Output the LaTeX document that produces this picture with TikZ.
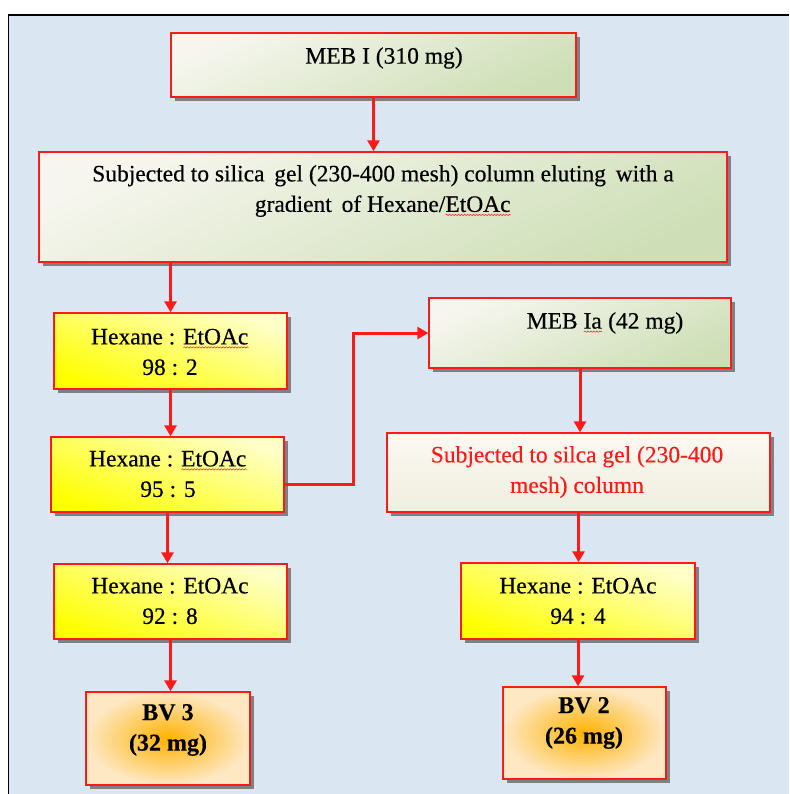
\documentclass[tikz,border=0pt]{standalone}
\usepackage{fontspec}
\setmainfont[FakeBold=0.4]{Liberation Serif}
\usetikzlibrary{arrows.meta,shadows,decorations.pathmorphing}
\definecolor{bgblue}{RGB}{218,230,241}
\definecolor{redline}{RGB}{255,26,26}
\definecolor{greenA}{RGB}{246,246,238}
\definecolor{greenB}{RGB}{206,223,183}
\definecolor{yelA}{RGB}{255,255,200}
\definecolor{yelB}{RGB}{255,255,0}
\definecolor{ivoryA}{RGB}{251,249,242}
\definecolor{ivoryB}{RGB}{240,238,222}
\definecolor{orgC}{RGB}{255,178,0}
\definecolor{orgO}{RGB}{254,232,196}
\newsavebox\wvbox
\newcommand\wavy[1]{\sbox\wvbox{#1}\rlap{\usebox\wvbox}\raisebox{-4pt}[0pt][0pt]{\tikz\draw[redline,line width=0.5pt,decorate,decoration={snake,amplitude=0.7pt,segment length=3pt}] (0pt,0pt) -- (\wd\wvbox,0pt);}}
\begin{document}
\begin{tikzpicture}[x=1pt,y=-1pt,
  box/.style={draw=redline, line width=1.4pt, rectangle, inner sep=0pt,
    drop shadow={shadow xshift=4pt, shadow yshift=-4pt, fill=black!70, opacity=0.65}},
  greenbox/.style={box, top color=greenA, bottom color=greenB, shading angle=25},
  yelbox/.style={box, top color=yelA, bottom color=yelB, shading angle=-20},
  ivorybox/.style={box, top color=ivoryA, bottom color=ivoryB},
  orgbox/.style={box, inner color=orgC, outer color=orgO},
  txt/.style={font=\fontsize{23.5}{30.5}\selectfont, align=center, inner sep=0pt},
  arr/.style={draw=redline, line width=3pt, -{Triangle[length=11pt,width=12pt]}}]
\useasboundingbox (0,0) rectangle (789,794);
\fill[bgblue] (8.5,15) rectangle (789,794);
\draw[black, line width=1.8pt] (8.5,794) -- (8.5,15) -- (789,15);

\node[greenbox, minimum width=405pt, minimum height=64pt] (meb) at (373.5,65) {};
\node[txt] (mebt) at (384,58) {MEB I (310 mg)};

\node[greenbox, minimum width=688pt, minimum height=110pt] (big) at (383,207) {};
\node[txt] (bigt) at (383,191) {Subjected to silica\, gel (230-400 mesh) column eluting\, with a\\gradient\, of Hexane/\wavy{EtOAc}};

\node[yelbox, minimum width=233pt, minimum height=76pt] (h1) at (170.5,351) {};
\node[txt] (h1t) at (170,352) {Hexane : \wavy{EtOAc}\\98 : 2};

\node[yelbox, minimum width=233pt, minimum height=75pt] (h2) at (167.5,474.5) {};
\node[txt] (h2t) at (168,474) {Hexane : \wavy{EtOAc}\\95 : 5};

\node[yelbox, minimum width=233pt, minimum height=75pt] (h3) at (170.5,601.5) {};
\node[txt] (h3t) at (170,601) {Hexane : EtOAc\\92 : 8};

\node[greenbox, minimum width=302pt, minimum height=70pt] (mebia) at (580,333) {};
\node[txt] (mebiat) at (605,323) {MEB \wavy{Ia} (42 mg)};

\node[ivorybox, minimum width=383pt, minimum height=79pt] (silca) at (578.5,472.5) {};
\node[txt, text=redline] (silcat) at (577,472) {Subjected to silca gel (230-400\\mesh) column};

\node[yelbox, minimum width=234pt, minimum height=76pt] (h4) at (578,601) {};
\node[txt] (h4t) at (578,601) {Hexane : EtOAc\\94 : 4};

\node[orgbox, minimum width=164pt, minimum height=93pt] (bv3) at (168,738.5) {};
\node[txt, font=\fontsize{24}{30.5}\selectfont\bfseries] (bv3t) at (168,730) {BV 3\\(32 mg)};

\node[orgbox, minimum width=163pt, minimum height=92pt] (bv2) at (584.5,733) {};
\node[txt, font=\fontsize{24}{30.5}\selectfont\bfseries] (bv2t) at (584,723) {BV 2\\(26 mg)};

\draw[arr] (meb.south) -- (big.north -| meb.south);
\draw[arr] (big.south -| h1.north) -- (h1.north);
\draw[arr] (h1.south) -- (h2.north -| h1.south);
\draw[arr] (h2.south) -- (h3.north -| h2.south);
\draw[arr] (h3.south) -- (bv3.north -| h3.south);
\draw[arr] ([yshift=-10pt]h2.east) -- ++(69,0) |- (mebia.west);
\draw[arr] (mebia.south) -- (silca.north -| mebia.south);
\draw[arr] (silca.south) -- (h4.north -| silca.south);
\draw[arr] (h4.south) -- (bv2.north -| h4.south);
\end{tikzpicture}
\end{document}
